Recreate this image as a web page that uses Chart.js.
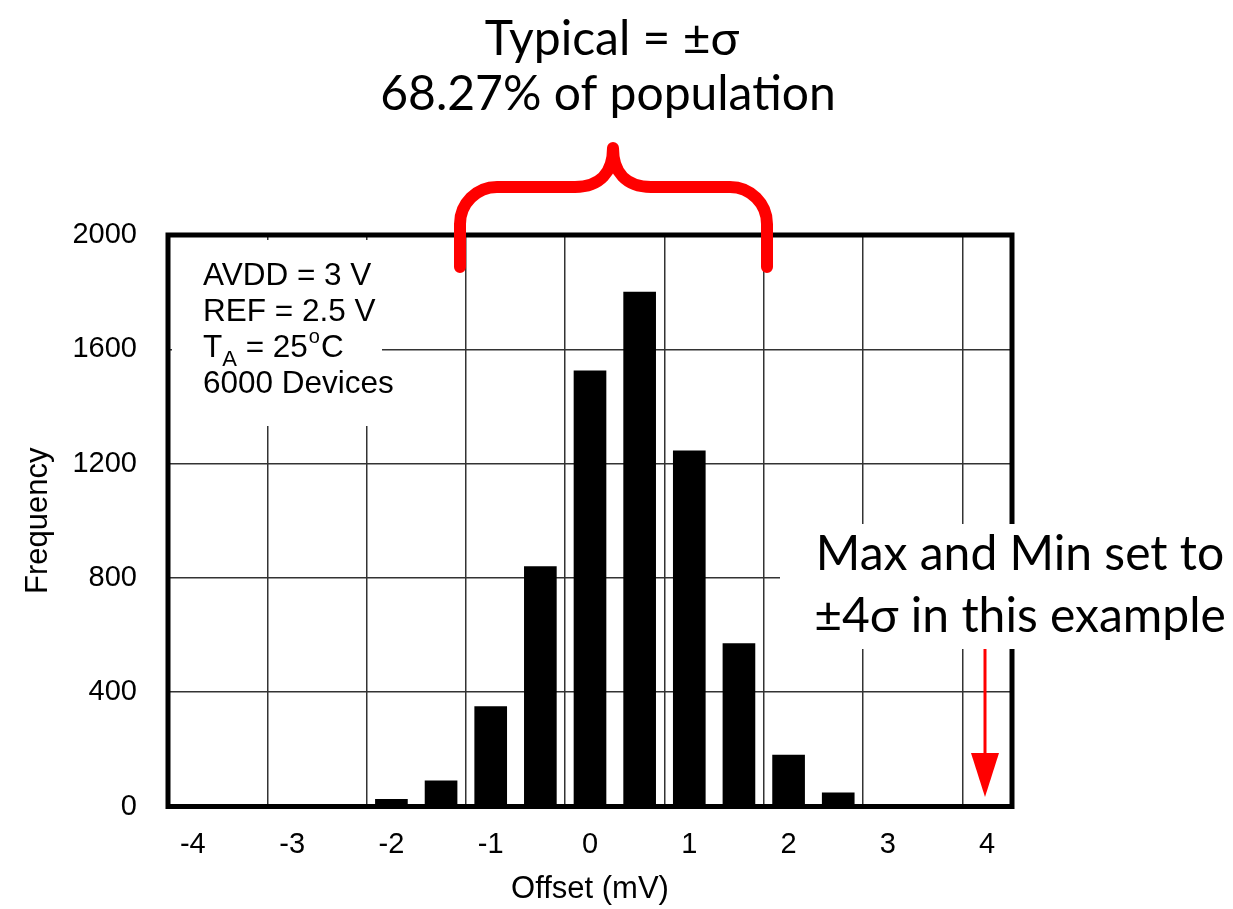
<!DOCTYPE html>
<html lang="en">
<head>
    <meta charset="UTF-8">
    <title>Offset histogram</title>
    <script src="https://cdnjs.cloudflare.com/ajax/libs/Chart.js/4.4.1/chart.umd.min.js"></script>
    <style>
        body { margin: 0; background: #fff; }
        #wrap { width: 1233px; height: 909px; position: relative; }
    </style>
</head>
<body>
    <div id="wrap"><canvas id="myChart"></canvas></div>

    <script>
        // histogram bins (mV) and counts
        const bins = [-2, -1.5, -1, -0.5, 0, 0.5, 1, 1.5, 2, 2.5];
        const counts = [25, 90, 350, 840, 1525, 1800, 1245, 570, 180, 48];

        const xTicks = [-4, -3, -2, -1, 0, 1, 2, 3, 4];
        const yTicks = [0, 400, 800, 1200, 1600, 2000];
        // vertical grid lines sit between the labels in the original
        const xGrid = [-3.25, -2.25, -1.25, -0.25, 0.75, 1.75, 2.75, 3.75];

        const infoLines = ['AVDD = 3 V', 'REF = 2.5 V', null, '6000 Devices'];
        const topNote = ['Typical = \u00b1\u03c3', '68.27% of population'];
        const sideNote = ['Max and Min set to', '\u00b14\u03c3 in this example'];

        const tickFont = { family: 'Liberation Sans', size: 29 };
        const titleFont = { family: 'Liberation Sans', size: 31 };

        const extras = {
            id: 'extras',
            beforeDraw: (chart) => {
                const ctx = chart.ctx;
                ctx.save();
                ctx.fillStyle = '#fff';
                ctx.fillRect(0, 0, chart.width, chart.height);
                ctx.restore();
            },
            afterDraw: (chart) => {
                const ctx = chart.ctx;
                const a = chart.chartArea;
                ctx.save();

                // frame
                ctx.strokeStyle = '#000';
                ctx.lineWidth = 5;
                ctx.strokeRect(a.left, a.top, a.right - a.left, a.bottom - a.top);

                // white boxes behind the notes
                ctx.fillStyle = '#fff';
                ctx.fillRect(172, 240, 210, 186);
                ctx.fillRect(780, 524, 453, 125);

                // condition box
                ctx.fillStyle = '#000';
                ctx.textAlign = 'left';
                ctx.textBaseline = 'alphabetic';
                ctx.font = '31.5px "Liberation Sans"';
                ctx.fillText(infoLines[0], 203, 285);
                ctx.fillText(infoLines[1], 203, 321);
                ctx.fillText(infoLines[3], 203, 393);
                let x = 203;
                ctx.fillText('T', x, 357);
                x += ctx.measureText('T').width;
                ctx.font = '22px "Liberation Sans"';
                ctx.fillText('A', x, 366);
                x += ctx.measureText('A').width;
                ctx.font = '31.5px "Liberation Sans"';
                ctx.fillText(' = 25', x, 357);
                x += ctx.measureText(' = 25').width;
                ctx.font = '20px "Liberation Sans"';
                ctx.fillText('o', x + 1, 343);
                x += ctx.measureText('o').width + 2;
                ctx.font = '31.5px "Liberation Sans"';
                ctx.fillText('C', x, 357);

                // notes
                ctx.font = '48px Lato';
                ctx.textAlign = 'center';
                ctx.fillText(topNote[0], 612, 55);
                ctx.fillText(topNote[1], 608, 110);
                ctx.fillText(sideNote[0], 1020, 570);
                ctx.fillText(sideNote[1], 1020, 632);

                // red brace
                ctx.strokeStyle = '#ff0000';
                ctx.lineWidth = 12;
                ctx.lineCap = 'round';
                ctx.lineJoin = 'round';
                ctx.beginPath();
                ctx.moveTo(460, 267);
                ctx.lineTo(460, 224);
                ctx.arcTo(460, 187, 497, 187, 37);
                ctx.lineTo(575, 187);
                ctx.bezierCurveTo(600, 187, 613, 172, 613, 148);
                ctx.bezierCurveTo(613, 172, 626, 187, 651, 187);
                ctx.lineTo(730, 187);
                ctx.arcTo(767, 187, 767, 224, 37);
                ctx.lineTo(767, 267);
                ctx.stroke();

                // red arrow
                ctx.lineWidth = 3;
                ctx.lineCap = 'butt';
                ctx.beginPath();
                ctx.moveTo(985, 649);
                ctx.lineTo(985, 760);
                ctx.stroke();
                ctx.fillStyle = '#ff0000';
                ctx.beginPath();
                ctx.moveTo(971, 753);
                ctx.lineTo(999, 753);
                ctx.lineTo(985, 797);
                ctx.closePath();
                ctx.fill();

                ctx.restore();
            }
        };

        const chart = new Chart("myChart", {
            type: "bar",
            data: {
                datasets: [{
                    data: bins.map((b, i) => ({ x: b, y: counts[i] })),
                    backgroundColor: '#000',
                    borderWidth: 0,
                    barThickness: 32,
                    xAxisID: 'x'
                }]
            },
            options: {
                responsive: true,
                maintainAspectRatio: false,
                animation: false,
                layout: { padding: { left: 0, top: 235, right: 221, bottom: 0 } },
                plugins: {
                    legend: { display: false },
                    tooltip: { enabled: false }
                },
                scales: {
                    x: {
                        type: 'linear',
                        position: 'bottom',
                        min: -4.25,
                        max: 4.25,
                        offset: false,
                        weight: 1,
                        afterBuildTicks: (s) => { s.ticks = xTicks.map(v => ({ value: v })); },
                        afterFit: (s) => { s.height = 102.5; },
                        grid: { display: false, drawTicks: false },
                        border: { display: false },
                        ticks: { color: '#000', font: tickFont, padding: 21, callback: (v) => String(v) },
                        title: {
                            display: true,
                            text: 'Offset (mV)',
                            color: '#000',
                            font: titleFont,
                            padding: { top: 0, bottom: 1 }
                        }
                    },
                    xg: {
                        type: 'linear',
                        position: 'bottom',
                        min: -4.25,
                        max: 4.25,
                        offset: false,
                        weight: 2,
                        afterBuildTicks: (s) => { s.ticks = xGrid.map(v => ({ value: v })); },
                        afterFit: (s) => { s.height = 0; },
                        grid: { color: '#333', lineWidth: 1.5, drawTicks: false, offset: false },
                        border: { display: false },
                        ticks: { display: false }
                    },
                    y: {
                        min: 0,
                        max: 2000,
                        afterBuildTicks: (s) => { s.ticks = yTicks.map(v => ({ value: v })); },
                        afterFit: (s) => { s.width = 168; },
                        grid: { color: '#333', lineWidth: 1.5, drawTicks: false },
                        border: { display: false },
                        ticks: { color: '#000', font: tickFont, padding: 31, callback: (v) => String(v) },
                        title: {
                            display: true,
                            text: 'Frequency',
                            color: '#000',
                            font: titleFont,
                            padding: { top: 20, bottom: 0 }
                        }
                    }
                }
            },
            plugins: [extras]
        });
    </script>
</body>
</html>
